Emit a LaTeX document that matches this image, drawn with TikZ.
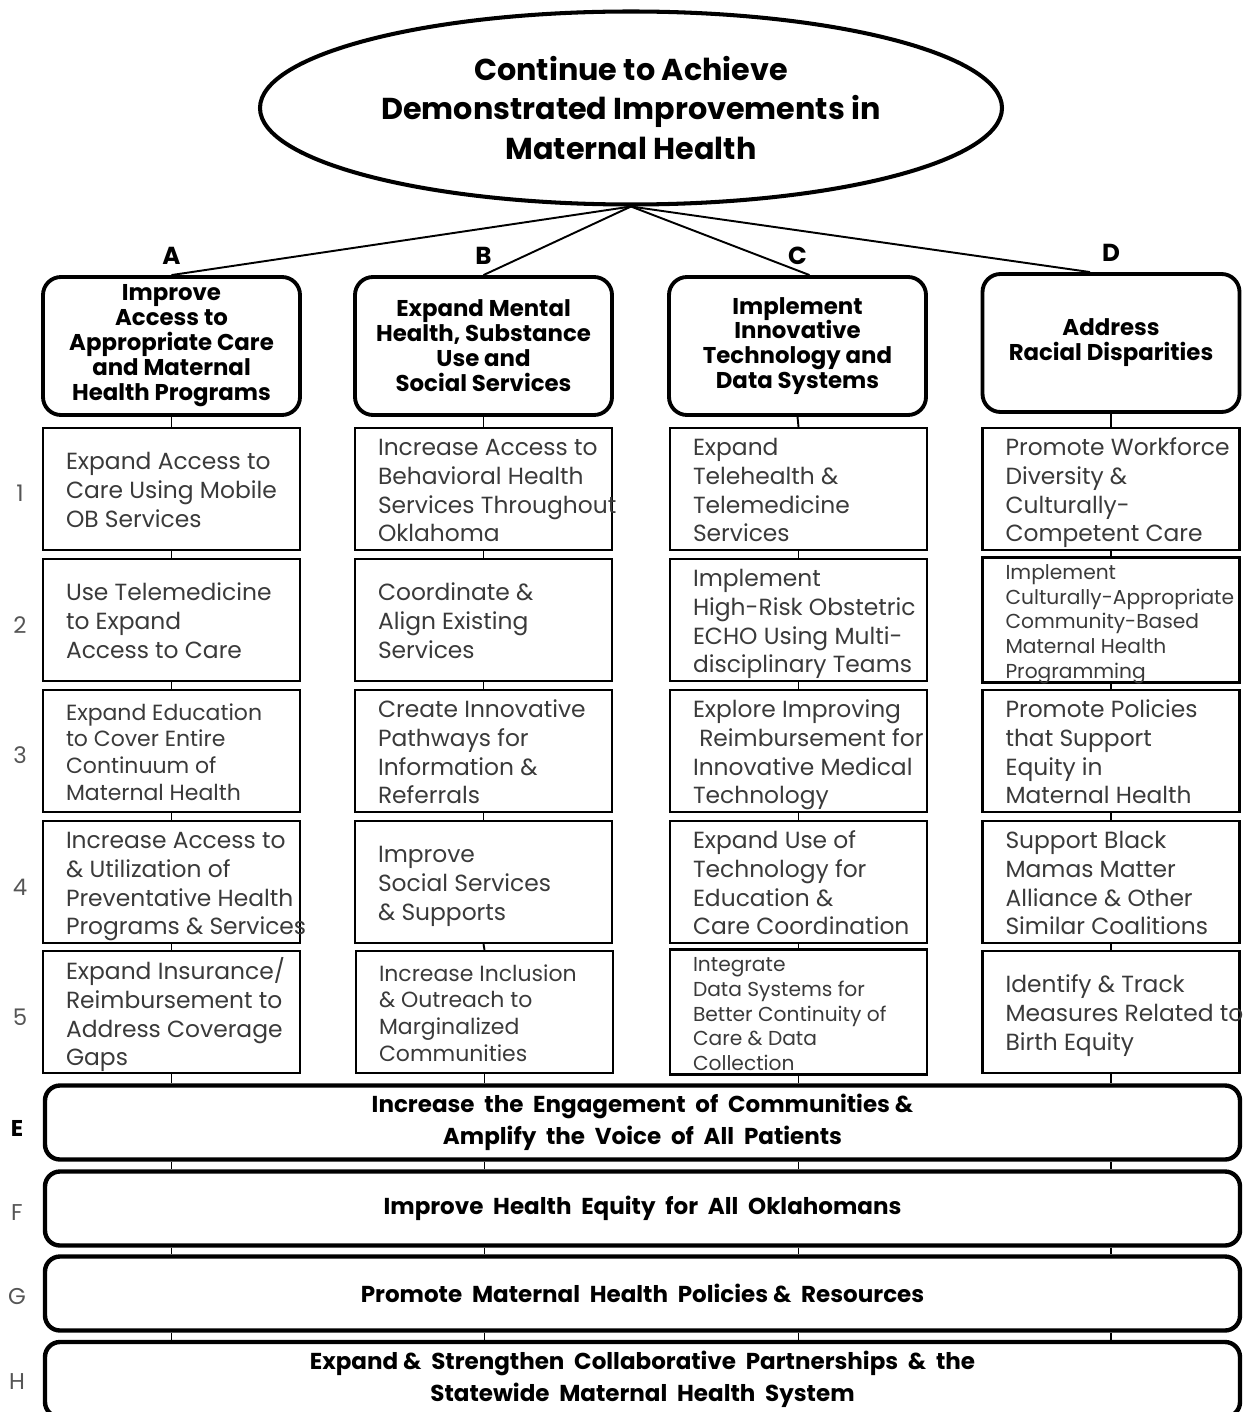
\documentclass[tikz,border=0pt]{standalone}
\usepackage{fontspec}
\setmainfont{Poppins}
\usepackage{xcolor}
\usepackage{tikz}
\usetikzlibrary{shapes.geometric}
\definecolor{txtgray}{HTML}{3A3A3A}
\definecolor{numgray}{HTML}{555555}
\newlength{\pu}
\setlength{\pu}{0.02cm}
% lines of a box, left aligned, never broken
\newcommand{\boxlines}[1]{\raisebox{-4\pu}[\height][\depth]{\makebox[211\pu][l]{\begin{tabular}{@{}l@{}}#1\end{tabular}}}}
\tikzset{
    goal/.style={ellipse, draw, line width=2.3pt, minimum width=742\pu,
        minimum height=193\pu, align=center,
        font=\bfseries\fontsize{17.2}{22.7}\selectfont},
    head/.style={draw, rounded corners=18\pu, line width=2.2pt,
        minimum width=257\pu, minimum height=138\pu, inner sep=1pt,
        align=center, font=\bfseries\fontsize{13}{14.2}\selectfont,
        label={[font=\bfseries\fontsize{14}{16}\selectfont, inner sep=2pt,
            label distance=4pt]above:#1}},
    item/.style={draw, line width=1.3pt, minimum width=257\pu,
        minimum height=122\pu, inner xsep=23\pu, inner ysep=0pt,
        text=txtgray, font=\fontsize{13.3}{16.4}\selectfont},
    smallitem/.style={item, font=\fontsize{12.5}{15.2}\selectfont},
    tinyitem/.style={item, font=\fontsize{11.5}{14.2}\selectfont},
    bar/.style={draw, rounded corners=15\pu, line width=2.5pt,
        minimum width=1195\pu, minimum height=74\pu, align=center,
        font=\bfseries\fontsize{13.1}{18}\selectfont},
    link/.style={line width=1.1pt},
    rownum/.style={text=numgray, font=\fontsize{13}{15}\selectfont}
}
\begin{document}
\begin{tikzpicture}[x=\pu, y=-\pu]
\useasboundingbox (0,0) rectangle (1250,1412);

% goal
\node[goal] (goal) at (631,108) {Continue to Achieve\\Demonstrated Improvements in\\Maternal Health};

% the four aims
\node[head=A] (hdA) at (171.5,346) {Improve\\Access to\\Appropriate Care\\and Maternal\\Health Programs};
\node[head=B] (hdB) at (483.5,346) {Expand Mental\\Health, Substance\\Use and\\Social Services};
\node[head=C] (hdC) at (797.5,346) {Implement\\Innovative\\Technology and\\Data Systems};
\node[head=D] (hdD) at (1111,343) {Address\\Racial Disparities};

\draw[link] (goal.south) -- (hdA.north);
\draw[link] (goal.south) -- (hdB.north);
\draw[link] (goal.south) -- ([xshift=12\pu]hdC.north);
\draw[link] (goal.south) -- ([xshift=-21\pu]hdD.north);

% column A
\node[item] (a1) at (171.5,489) {\boxlines{Expand Access to\\Care Using Mobile\\OB Services}};
\node[item] (a2) at (171.5,620) {\boxlines{Use Telemedicine\\to Expand\\Access to Care}};
\node[smallitem] (a3) at (171.5,751) {\boxlines{Expand Education\\to Cover Entire\\Continuum of\\Maternal Health}};
\node[item] (a4) at (171.5,882) {\boxlines{Increase Access to\\\& Utilization of\\Preventative Health\\Programs \& Services}};
\node[item] (a5) at (171.5,1012) {\boxlines{Expand Insurance/\\Reimbursement to\\Address Coverage\\Gaps}};

% column B
\node[item] (b1) at (483.5,489) {\boxlines{Increase Access to\\Behavioral Health\\Services Throughout\\Oklahoma}};
\node[item] (b2) at (483.5,620) {\boxlines{Coordinate \&\\Align Existing\\Services}};
\node[item] (b3) at (483.5,751) {\boxlines{Create Innovative\\Pathways for\\Information \&\\Referrals}};
\node[item] (b4) at (483.5,882) {\boxlines{Improve\\Social Services\\\& Supports}};
\node[smallitem] (b5) at (484.5,1012) {\boxlines{Increase Inclusion\\\& Outreach to\\Marginalized\\Communities}};

% column C
\node[item] (c1) at (798.5,489) {\boxlines{Expand\\Telehealth \&\\Telemedicine\\Services}};
\node[item] (c2) at (798.5,620) {\boxlines{Implement\\High-Risk Obstetric\\ECHO Using Multi-\\disciplinary Teams}};
\node[item] (c3) at (798.5,751) {\boxlines{Explore Improving\\\ Reimbursement for\\Innovative Medical\\Technology}};
\node[item] (c4) at (798.5,882) {\boxlines{Expand Use of\\Technology for\\Education \&\\Care Coordination}};
\node[tinyitem] (c5) at (798.5,1012) {\boxlines{Integrate\\Data Systems for\\Better Continuity of\\Care \& Data\\Collection}};

% column D
\node[item] (d1) at (1111,489) {\boxlines{Promote Workforce\\Diversity \&\\Culturally-\\Competent Care}};
\node[tinyitem] (d2) at (1111,620) {\boxlines{Implement\\Culturally-Appropriate\\Community-Based\\Maternal Health\\Programming}};
\node[item] (d3) at (1111,751) {\boxlines{Promote Policies\\that Support\\Equity in\\Maternal Health}};
\node[item] (d4) at (1111,882) {\boxlines{Support Black\\Mamas Matter\\Alliance \& Other\\Similar Coalitions}};
\node[item] (d5) at (1111,1012) {\boxlines{Identify \& Track\\Measures Related to\\Birth Equity}};

% row numbers
\foreach \r/\yy in {1/493, 2/625, 3/755, 4/887, 5/1017}
    \node[rownum] (num\r) at (20,\yy) {\r};

% shared goals
\node[bar] (barE) at (642.5,1122.5) {Increase~ the~ Engagement~ of~ Communities \&\\Amplify~ the~ Voice~ of~ All~ Patients};
\node[bar] (barF) at (642.5,1208.5) {Improve~ Health~ Equity~ for~ All~ Oklahomans};
\node[bar] (barG) at (642.5,1293.5) {Promote~ Maternal~ Health~ Policies \&~ Resources};
\node[bar, minimum height=75\pu] (barH) at (642.5,1379.5) {Expand \&~ Strengthen~ Collaborative~ Partnerships~ \&~ the\\Statewide~ Maternal~ Health~ System};

\node[font=\bfseries\fontsize{13}{15}\selectfont] (letE) at (17,1128) {E};
\node[rownum] (letF) at (17,1213) {F};
\node[rownum] (letG) at (17,1297) {G};
\node[rownum] (letH) at (17,1382) {H};

% links down each column
\foreach \c/\h in {a/A, b/B, c/C, d/D} {
    \draw[link] (hd\h.south) -- (\c1.north);
    \draw[link] (\c1.south) -- (\c2.north);
    \draw[link] (\c2.south) -- (\c3.north);
    \draw[link] (\c3.south) -- (\c4.north);
    \draw[link] (\c4.south) -- (\c5.north);
    \draw[link] (\c5.south) -- (\c5.south |- barE.north);
    \draw[link] (barE.south -| \c5) -- (barF.north -| \c5);
    \draw[link] (barF.south -| \c5) -- (barG.north -| \c5);
    \draw[link] (barG.south -| \c5) -- (barH.north -| \c5);
}
\end{tikzpicture}
\end{document}
